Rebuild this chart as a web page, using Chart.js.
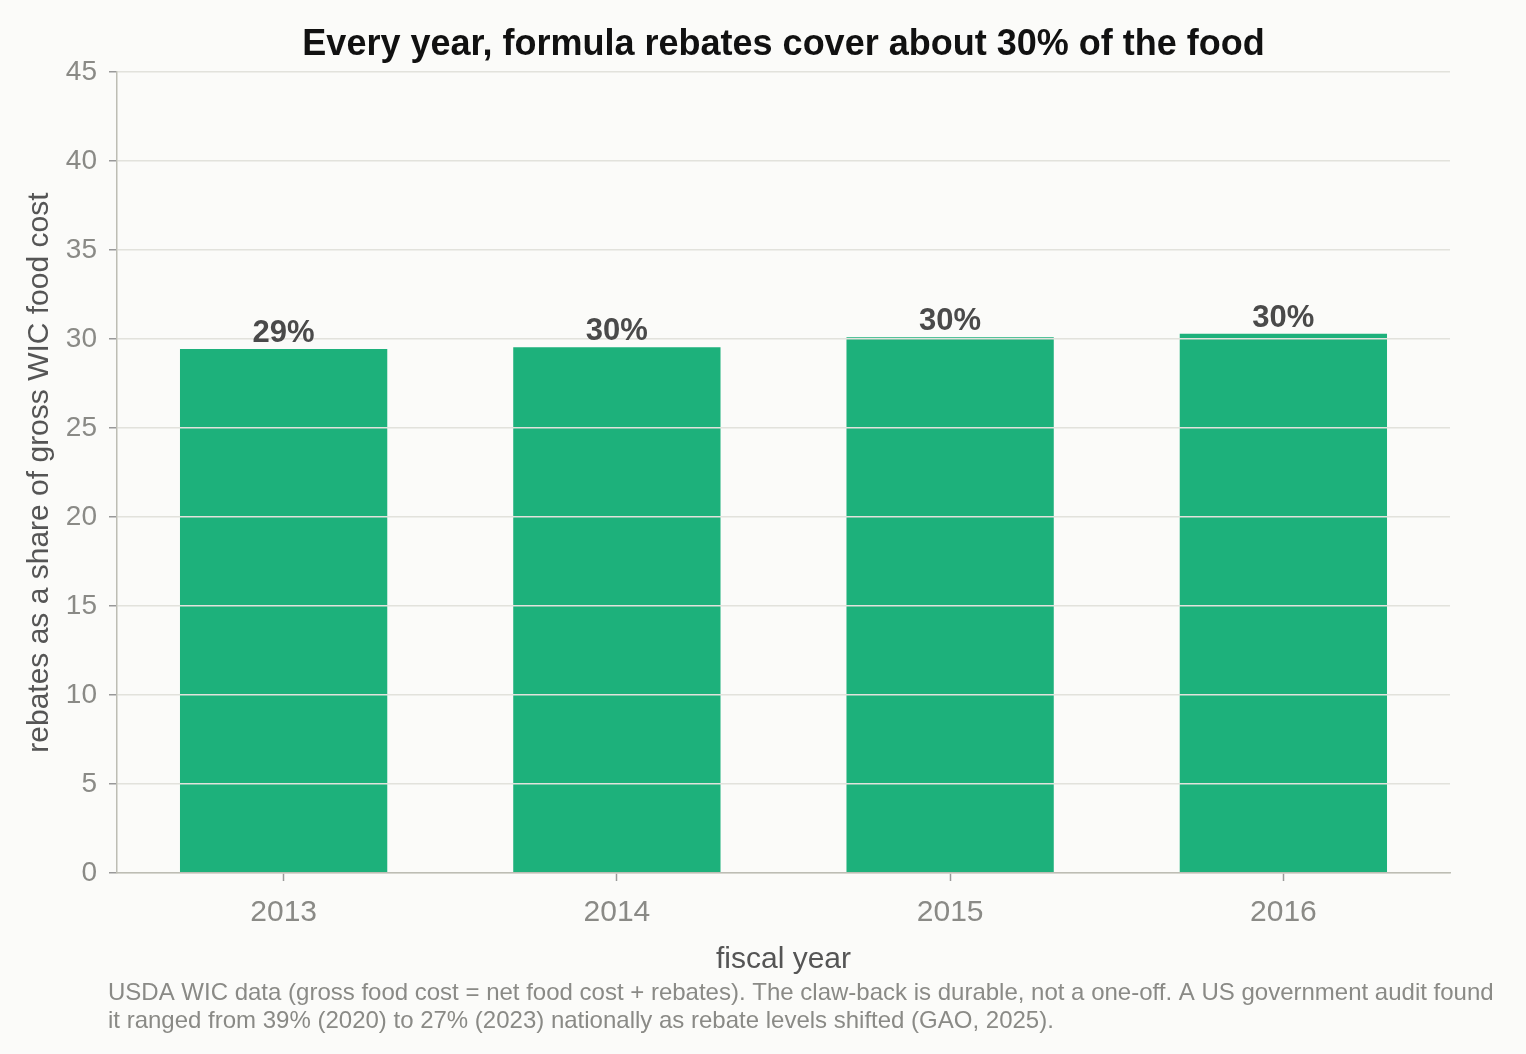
<!DOCTYPE html>
<html>
<head>
<meta charset="utf-8">
<script src="https://cdn.jsdelivr.net/npm/chart.js@4/dist/chart.umd.min.js"></script>
<style>
  html, body { margin: 0; padding: 0; background: #fbfbf9; }
  #wrap { width: 1526px; height: 1054px; }
</style>
</head>
<body>
<div id="wrap"><canvas id="chart" width="1526" height="1054"></canvas></div>
<script>
const years = ['2013', '2014', '2015', '2016'];
const rebateShare = [29.45, 29.55, 30.1, 30.3];
const yTicks = [0, 5, 10, 15, 20, 25, 30, 35, 40, 45];
const footnote = [
  'USDA WIC data (gross food cost = net food cost + rebates). The claw-back is durable, not a one-off. A US government audit found',
  'it ranged from 39% (2020) to 27% (2023) nationally as rebate levels shifted (GAO, 2025).'
];

const FONT = '"Liberation Sans", Arial, sans-serif';
const axisGray = '#bdbdb4';

const extras = {
  id: 'extras',
  beforeDraw(chart) {
    const ctx = chart.ctx;
    ctx.save();
    ctx.fillStyle = '#fbfbf9';
    ctx.fillRect(0, 0, chart.width, chart.height);
    ctx.restore();
  },
  afterDraw(chart) {
    const ctx = chart.ctx;
    ctx.save();
    // value labels above bars
    const meta = chart.getDatasetMeta(0);
    ctx.font = 'bold 31px ' + FONT;
    ctx.fillStyle = '#4a4a4a';
    ctx.textAlign = 'center';
    ctx.textBaseline = 'alphabetic';
    meta.data.forEach((bar, i) => {
      ctx.fillText(Math.round(rebateShare[i]) + '%', bar.x, bar.y - 7);
    });
    // source note
    ctx.font = '24px ' + FONT;
    ctx.fillStyle = '#8a8a86';
    ctx.textAlign = 'left';
    ctx.textBaseline = 'middle';
    footnote.forEach((line, i) => ctx.fillText(line, 108, 993 + i * 28));
    ctx.restore();
  }
};

new Chart(document.getElementById('chart'), {
  type: 'bar',
  data: {
    labels: years,
    datasets: [{
      data: rebateShare,
      backgroundColor: '#1db17b',
      barPercentage: 0.622,
      categoryPercentage: 1
    }]
  },
  options: {
    responsive: false,
    animation: false,
    devicePixelRatio: 1,
    layout: { padding: { left: 0, right: 76, top: 0, bottom: 76 } },
    plugins: {
      legend: { display: false },
      tooltip: { enabled: false },
      title: {
        display: true,
        text: 'Every year, formula rebates cover about 30% of the food',
        fullSize: false,
        color: '#111',
        font: { family: FONT, size: 36, weight: 'bold' },
        padding: { top: 23, bottom: 6 }
      }
    },
    scales: {
      x: {
        afterFit(scale) { scale.height = 105; },
        grid: {
          display: true,
          drawOnChartArea: false,
          drawTicks: true,
          offset: false,
          tickLength: 8,
          tickColor: '#999',
          tickWidth: 1.5
        },
        border: { color: axisGray, width: 1.5, z: 2 },
        ticks: { color: '#8a8a86', font: { family: FONT, size: 30 }, padding: 14 },
        title: {
          display: true,
          text: 'fiscal year',
          color: '#555',
          font: { family: FONT, size: 30 },
          padding: { top: 0, bottom: 0 }
        }
      },
      y: {
        min: 0,
        max: 45,
        afterFit(scale) { scale.width = 117; },
        afterBuildTicks(scale) { scale.ticks = yTicks.map(v => ({ value: v })); },
        grid: {
          z: 1,
          color: '#e2e2dc',
          lineWidth: 1.5,
          drawTicks: true,
          tickLength: 8,
          tickColor: '#999',
          tickWidth: 1.5
        },
        border: { color: axisGray, width: 1.5, z: 2 },
        ticks: { color: '#8a8a86', font: { family: FONT, size: 28 }, padding: 12 },
        title: {
          display: true,
          text: 'rebates as a share of gross WIC food cost',
          color: '#555',
          font: { family: FONT, size: 30 },
          padding: { top: 22, bottom: 0 }
        }
      }
    }
  },
  plugins: [extras]
});
</script>
</body>
</html>
